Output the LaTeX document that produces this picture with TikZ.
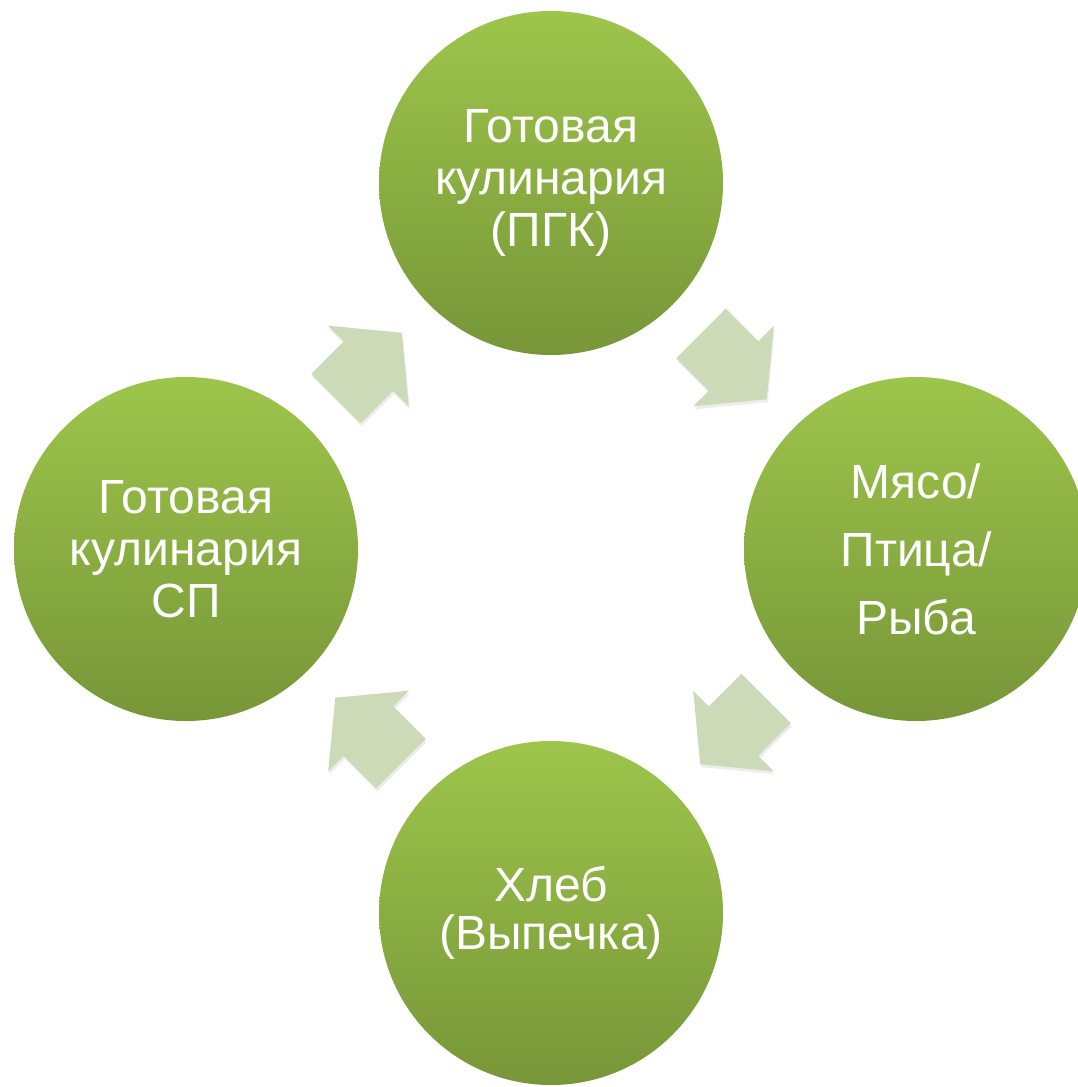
\documentclass[tikz,border=0pt]{standalone}
\usepackage{fontspec}
\setmainfont{Liberation Sans}
\usetikzlibrary{calc,backgrounds}
\definecolor{gtop}{RGB}{157,197,75}
\definecolor{gbot}{RGB}{119,150,56}
\definecolor{arrowc}{RGB}{204,218,184}
\tikzset{
  stage/.style={circle, minimum size=344pt, inner sep=0pt, top color=gtop, bottom color=gbot,
    text=white, align=center, font=\fontsize{48}{52}\selectfont},
  cycshape/.pic={
    \path[pic actions] (-46,-35) -- (0,-35) -- (0,-57) -- (47,0) -- (0,57) -- (0,35) -- (-46,35) -- cycle;
  },
  arrowbody/.style={fill=arrowc},
  arrowshade/.style={fill=black, opacity=0.07},
}
\begin{document}
\begin{tikzpicture}[x=1pt,y=-1pt]
\useasboundingbox (0,0) rectangle (1078,1087);
\clip (0,0) rectangle (1078,1087);
\fill[white] (0,0) rectangle (1078,1087);

\node[stage] (t) at (551,183) {Готовая\\кулинария\\(ПГК)};
\node[stage, font=\fontsize{48}{68}\selectfont] (r) at (916,549) {Мясо/\\Птица/\\Рыба};
\node[stage, font=\fontsize{48}{48}\selectfont] (b) at (551,913) {Хлеб\\(Выпечка)};
\node[stage] (l) at (186,549) {Готовая\\кулинария\\СП};

\begin{scope}[on background layer]
  \foreach \n in {t,r,b,l}{
    \fill[black,opacity=0.07] ($(\n)+(1,5)$) circle (173pt);
    \fill[black,opacity=0.09] ($(\n)+(0.5,3)$) circle (172pt);
    \fill[black,opacity=0.1] ($(\n)+(0,1.5)$) circle (172pt);
  }
\end{scope}

% block arrows between the stages
\pic[arrowshade, shift={(1,3)}, rotate=-45] at ($(t)!0.5!(r)$) {cycshape};
\pic[arrowbody, rotate=-45] at ($(t)!0.5!(r)$) {cycshape};
\pic[arrowshade, shift={(1,3)}, rotate=-135] at ($(r)!0.5!(b)$) {cycshape};
\pic[arrowbody, rotate=-135] at ($(r)!0.5!(b)$) {cycshape};
\pic[arrowshade, shift={(1,3)}, rotate=135] at ($(b)!0.5!(l)$) {cycshape};
\pic[arrowbody, rotate=135] at ($(b)!0.5!(l)$) {cycshape};
\pic[arrowshade, shift={(1,3)}, rotate=45] at ($(l)!0.5!(t)$) {cycshape};
\pic[arrowbody, rotate=45] at ($(l)!0.5!(t)$) {cycshape};
\end{tikzpicture}
\end{document}
